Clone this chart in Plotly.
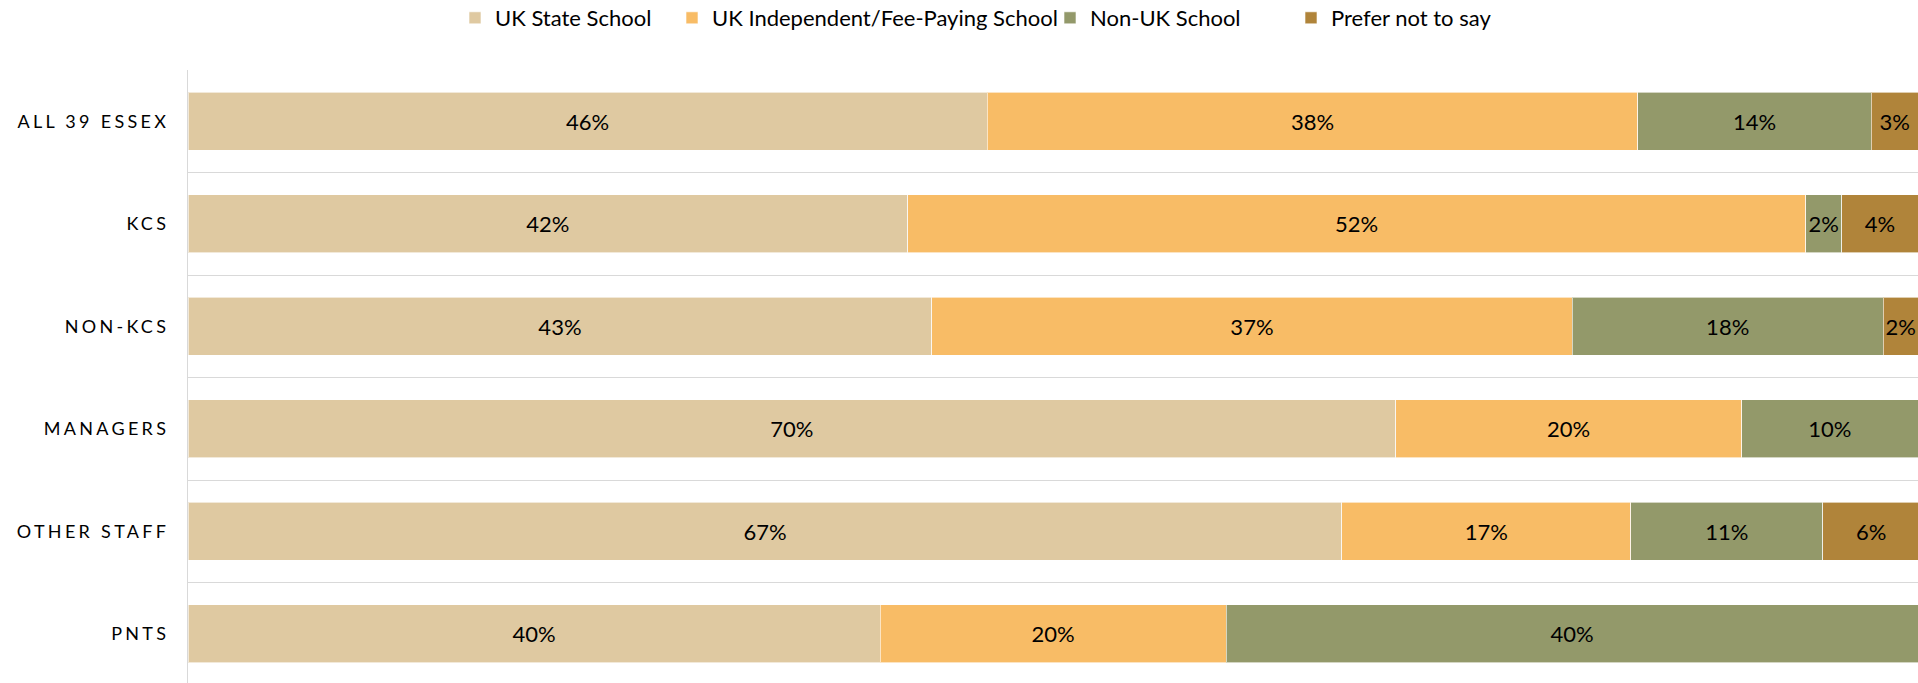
import plotly.graph_objects as go

categories = ["ALL 39 ESSEX", "KCS", "NON-KCS", "MANAGERS", "OTHER STAFF", "PNTS"]
series_names = ["UK State School", "UK Independent/Fee-Paying School", "Non-UK School", "Prefer not to say"]
uk_state = [46.2, 41.6, 43.0, 69.8, 66.7, 40.0]
uk_independent = [37.6, 51.9, 37.0, 20.0, 16.7, 20.0]
non_uk = [13.5, 2.1, 18.0, 10.2, 11.1, 40.0]
prefer_not = [2.7, 4.4, 2.0, None, 5.6, None]
colors = ["#DFC9A1", "#F8BC66", "#93996A", "#B0843A"]

series_values = [uk_state, uk_independent, non_uk, prefer_not]
legend_ids = ["legend", "legend2", "legend3", "legend4"]
legend_px = [468, 685, 1063, 1304]  # left edge of each legend swatch (px)

W, H = 1918, 683

fig = go.Figure()
for name, vals, col, lid in zip(series_names, series_values, colors, legend_ids):
    fig.add_trace(go.Bar(
        y=categories, x=vals, name=name, orientation="h", legend=lid,
        marker=dict(color=col, line=dict(color="rgba(255,255,255,0.6)", width=1)),
        text=["" if v is None else f"{round(v)}%" for v in vals],
        textposition="inside", insidetextanchor="middle", textangle=0,
        constraintext="none",
        textfont=dict(family="Lato", size=22, color="#000000"),
        hoverinfo="skip",
    ))

legend_font = dict(family="Lato", size=22, color="#000000")
leg_layout = {}
for lid, px in zip(legend_ids, legend_px):
    leg_layout[lid] = dict(orientation="h", x=(px - 13) / W, xref="container", xanchor="left",
                           y=1 - 18 / H, yref="container", yanchor="middle",
                           font=legend_font, itemwidth=30, bgcolor="rgba(0,0,0,0)")

fig.update_layout(
    barmode="stack", bargap=0.435,
    width=W, height=H,
    margin=dict(l=188, r=0, t=70, b=0, autoexpand=False),
    plot_bgcolor="white", paper_bgcolor="white",
    showlegend=True,
    **leg_layout,
)
fig.update_xaxes(range=[0, 100], showticklabels=False, showgrid=False, zeroline=False,
                 fixedrange=True, automargin=False)
fig.update_yaxes(categoryorder="array", categoryarray=categories, range=[5.48, -0.5],
                 showgrid=True, gridcolor="#D9D9D9", gridwidth=1.3, tickson="boundaries",
                 ticks="", showline=True, linecolor="#D9D9D9", linewidth=1.3, automargin=False,
                 tickfont=dict(family="Lato", size=18, color="#000000"), ticklabelstandoff=14)

post = """
document.body.style.margin = '0';
var gd = document.getElementById('{plot_id}');
function ls(){ gd.querySelectorAll('.ytick text').forEach(function(t){ t.style.letterSpacing='3.3px'; }); }
ls();
gd.on('plotly_afterplot', ls);
"""
fig.write_html("out.html", post_script=post, config={"displayModeBar": False})
